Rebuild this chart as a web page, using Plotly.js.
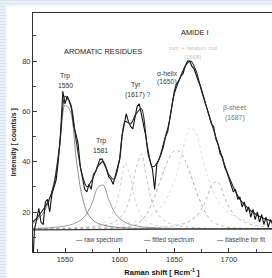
<!DOCTYPE html>
<html>
<head>
<meta charset="utf-8">
<script src="https://cdn.plot.ly/plotly-3.0.1.min.js"></script>
<style>
  html, body { margin:0; padding:0; width:272px; height:278px; overflow:hidden;
    background: repeating-linear-gradient(to bottom, #d6e4f4 0px, #d6e4f4 1px, #ecf2fa 1px, #ecf2fa 3px); }
  #panel { position:absolute; left:6px; top:6px; width:266px; height:272px; background:#ffffff; }
  #chart { position:absolute; left:0; top:0; width:272px; height:278px; }
</style>
</head>
<body>
<div id="panel"></div>
<div id="chart"></div>
<script>
// Raman shift grid for raw spectrum (cm^-1)
const rawShift = [1521,1522,1524,1526,1528,1530,1532,1534,1536,1538,1540,1542,1544,1546,1548,1550,1552,1554,1556,1558,1560,1562,1564,1566,1568,1570,1572,1574,1576,1578,1580,1582,1584,1586,1588,1590,1592,1594,1596,1598,1600,1602,1604,1606,1608,1610,1612,1614,1616,1618,1620,1622,1624,1626,1628,1630,1632,1634,1636,1638,1640,1642,1644,1646,1648,1650,1652,1654,1656,1658,1660,1662,1664,1666,1668,1670,1672,1674,1676,1678,1680,1682,1684,1686,1688,1690,1692,1694,1696,1698,1700,1702,1704,1706,1708,1710,1712,1714,1716,1718,1720,1722,1724,1726,1728,1730,1732,1734,1736,1738,1740,1742];
const rawCounts = [4,13,17,21.5,16,15,24,25,20,27,30,33,41,52,68,63,66,64,61,54,51,47,38,33,29,28,31,29,35,36,39,41,41,39,37,34,33,31,34,38,41,50,55,59,56,54,53,58,62,63,59,55,50,43,40,37,29,39,41,43,46,50,52,58,62,68,71,72,74,75,78,80,80,78,77,74,72,70,67,64,61,58,55,54,49,47,43,42,38,36,33,31,28,29,25,26,22,24,20,22,18,21,17,20,16,19,15,18,14,17,15,16];

// Grid for fitted spectrum and band components
const compShift = [1520,1525,1530,1535,1540,1545,1550,1555,1560,1565,1570,1575,1580,1585,1590,1595,1600,1605,1610,1615,1620,1625,1630,1635,1640,1645,1650,1655,1660,1665,1670,1675,1680,1685,1690,1695,1700,1705,1710,1715,1720,1725,1730,1735,1740];
const fittedCounts = [16,18,21,24.5,31,46,66,63,49,36,30,33,38,40,35,33,41,56,55,59,61,47,38,40,47,55,67,73,78,80,76,68,61,54,47,40,34,29,25,22.5,20.5,19,17.8,17,16.3];
const trp1550 = [15.5,17,19.5,24,32,46,62.5,60,42,27.5,20,17,15.5,14.8,14.3,14,13.8,13.7,13.6,13.5,13.5,13.4,13.4,13.3,13.3,13.3,13.3,13.3,13.3,13.3,13.3,13.25,13.25,13.25,13.25,13.25,13.25,13.2,13.2,13.2,13.2,13.2,13.2,13.2,13.2];
const trp1581 = [13.4,13.5,13.6,13.7,13.9,14.1,14.4,14.9,15.7,17.0,19.4,23.8,29.8,30.7,25.0,20.1,17.4,15.9,15.0,14.5,14.1,13.9,13.8,13.65,13.5,13.45,13.4,13.35,13.3,13.3,13.3,13.3,13.25,13.25,13.25,13.25,13.2,13.2,13.2,13.2,13.2,13.15,13.15,13.15,13.15];
const band1606 = [13.2,13.2,13.2,13.25,13.3,13.35,13.4,13.5,13.6,13.75,14.0,14.3,14.8,15.7,17.3,20.8,28.6,39.5,33.3,23.2,18.4,16.2,15.1,14.5,14.1,13.85,13.7,13.55,13.45,13.4,13.35,13.3,13.25,13.25,13.25,13.2,13.2,13.2,13.2,13.2,13.2,13.2,13.2,13.2,13.2];
const tyr1617 = [13.2,13.2,13.25,13.25,13.3,13.35,13.4,13.45,13.55,13.65,13.8,14.0,14.2,14.6,15.2,16.0,17.6,20.5,26.4,37.4,43.0,32.5,23.6,19.1,16.9,15.6,14.9,14.4,14.1,13.9,13.7,13.6,13.5,13.45,13.4,13.35,13.3,13.3,13.25,13.25,13.2,13.2,13.2,13.15,13.15];
const helix1650 = [13.3,13.3,13.3,13.3,13.35,13.35,13.4,13.4,13.45,13.5,13.5,13.55,13.6,13.65,13.7,13.8,13.9,14.0,14.2,14.9,16.5,19.4,23.8,29.7,36.0,41.4,44.3,44.0,40.4,34.7,28.4,22.9,18.7,16.0,15.0,14.3,13.9,13.7,13.6,13.5,13.45,13.4,13.4,13.35,13.35];
const turnCoil = [13.5,13.55,13.6,13.6,13.7,13.7,13.8,13.85,13.9,14.0,14.1,14.2,14.3,14.4,14.5,14.75,15.0,15.3,15.75,16.3,16.9,17.8,19.1,20.8,23.25,26.9,32.2,39.6,48.3,53.8,51.3,43.1,34.9,28.8,24.5,21.65,19.7,18.3,17.3,16.5,15.9,15.5,15.1,14.85,14.6];
const sheet1687 = [13.1,13.1,13.1,13.1,13.1,13.15,13.15,13.15,13.2,13.2,13.2,13.25,13.25,13.3,13.3,13.3,13.3,13.35,13.4,13.45,13.5,13.6,13.7,13.8,14.0,14.2,14.5,15.0,15.6,16.65,18.3,21.2,25.8,31.2,32.0,26.9,21.95,18.8,16.9,15.8,15.1,14.6,14.3,14.0,13.8];
const baselineShift = [1520, 1740];
const baselineCounts = [12.9, 13.4];

const xTickVals = [1550, 1600, 1650, 1700];
const yTickVals = [20, 40, 60, 80];

const FONT = 'Liberation Sans, Arial, sans-serif';

function comp(y, color, dash, width) {
  return {x: compShift, y: y, type: 'scatter', mode: 'lines', showlegend: false, hoverinfo: 'skip',
          line: {color: color, width: width || 0.8, dash: dash || 'solid', shape: 'spline', smoothing: 0.8}};
}

const traces = [
  comp(turnCoil, '#d4d4d4', 'dot', 0.8),
  comp(band1606, '#c8c8c8', 'dot', 0.8),
  comp(tyr1617, '#b4b4b4', 'dot', 0.8),
  comp(helix1650, '#9c9c9c', 'dot', 0.8),
  comp(sheet1687, '#a6a6a6', 'dot', 0.8),
  comp(trp1550, '#5a5a5a', 'solid', 0.7),
  comp(trp1581, '#6a6a6a', 'solid', 0.7),
  {x: baselineShift, y: baselineCounts, type: 'scatter', mode: 'lines', name: 'baseline for fit', showlegend: false,
   line: {color: '#3a3a3a', width: 1.4}},
  {x: rawShift, y: rawCounts, type: 'scatter', mode: 'lines', name: 'raw spectrum', showlegend: false,
   line: {color: '#111111', width: 1.1}},
  {x: compShift, y: fittedCounts, type: 'scatter', mode: 'lines', name: 'fitted spectrum', showlegend: false,
   line: {color: '#222222', width: 1.1, shape: 'spline', smoothing: 0.8}}
];

function lab(text, x, y, color, size) {
  return {text: text, x: x, y: y, xref: 'x', yref: 'y', showarrow: false, xanchor: 'center', yanchor: 'middle',
          font: {family: FONT, size: size || 7, color: color || '#2a2a2a'}};
}

const annotations = [
  lab('AROMATIC RESIDUES', 1584.8, 83.6, '#222', 7.4),
  lab('AMIDE I', 1668.9, 91.5, '#222', 7.4),
  lab('turn + random coil', 1667.1, 85.2, '#c4c4c4', 6),
  lab('(1668)', 1667.1, 81.6, '#c4c4c4', 6),
  lab('α-helix', 1643.5, 75.2, '#444', 6.8),
  lab('(1650)', 1643.5, 71.6, '#444', 6.8),
  lab('β-sheet', 1705.5, 61.3, '#777', 6.8),
  lab('(1687)', 1705.5, 57.5, '#777', 6.8),
  lab('Trp', 1550, 74.0, '#333', 6.8),
  lab('1550', 1550.5, 70.1, '#333', 6.8),
  lab('Tyr', 1615, 70.3, '#333', 6.8),
  lab('(1617) ?', 1617, 66.6, '#333', 6.8),
  lab('Trp', 1582.9, 48.2, '#333', 6.8),
  lab('1581', 1582.9, 44.6, '#333', 6.8),
  lab('— raw spectrum', 1581.1, 8.9, '#444', 6.4),
  lab('— fitted spectrum', 1645.2, 8.9, '#444', 6.4),
  lab('— baseline for fit', 1711.0, 8.9, '#444', 6.4)
];

const NB = '&nbsp;';
const layout = {
  width: 272, height: 278,
  margin: {l: 33, r: 0, t: 13, b: 26, pad: 0},
  paper_bgcolor: 'rgba(0,0,0,0)', plot_bgcolor: 'rgba(0,0,0,0)',
  showlegend: false,
  xaxis: {range: [1520.7, 1739.4], tickvals: xTickVals, ticktext: xTickVals.map(String),
          ticks: 'inside', ticklen: 4, tickwidth: 1, tickcolor: '#333',
          minor: {ticks: 'inside', ticklen: 3, tickcolor: '#444', tickvals: [1525, 1575, 1625, 1675, 1725]},
          showline: true, linecolor: '#333', linewidth: 1, mirror: true,
          showgrid: false, zeroline: false, tickfont: {family: FONT, size: 7.5, color: '#333'},
          title: {text: NB.repeat(9) + '<b>Raman shift [ Rcm<sup>-1</sup> ]</b>', standoff: 6,
                  font: {family: FONT, size: 7.5, color: '#111'}}},
  yaxis: {range: [4.1, 99.1], tickvals: yTickVals, ticktext: yTickVals.map(String),
          ticks: 'inside', ticklen: 4, tickwidth: 1, tickcolor: '#333',
          minor: {ticks: 'inside', ticklen: 3, tickcolor: '#444', tickvals: [10, 30, 50, 70, 90]},
          showline: true, linecolor: '#333', linewidth: 1, mirror: false,
          showgrid: false, zeroline: false, tickfont: {family: FONT, size: 7.5, color: '#333'},
          title: {text: '<b>Intensity [ counts/s ]</b>' + NB.repeat(10), standoff: 4,
                  font: {family: FONT, size: 7, color: '#222'}}},
  annotations: annotations
};

Plotly.newPlot('chart', traces, layout, {displayModeBar: false, staticPlot: true});
</script>
</body>
</html>
